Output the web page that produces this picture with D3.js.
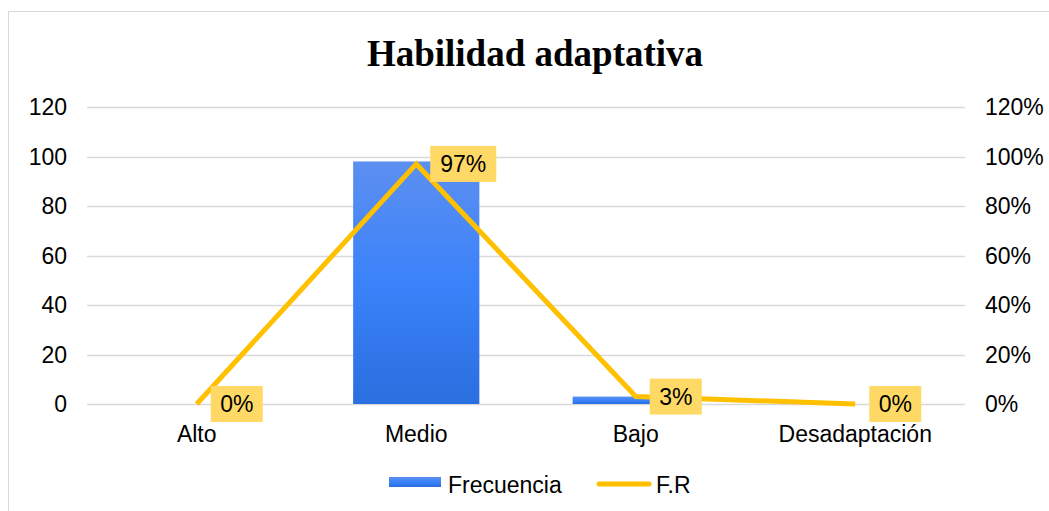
<!DOCTYPE html>
<html>
<head>
<meta charset="utf-8">
<script src="https://cdn.jsdelivr.net/npm/d3@7"></script>
<style>
body { margin: 0; background: #fff; }
text { font-family: "Liberation Sans", Arial, sans-serif; }
</style>
</head>
<body>
<svg width="1049" height="511"></svg>
<script>
var categories = ["Alto", "Medio", "Bajo", "Desadaptación"];
var frecuencia = [0, 98, 3, 0];
var fr = [0, 0.97, 0.03, 0];
var leftTicks = [0, 20, 40, 60, 80, 100, 120];
var rightTicks = [0, 0.2, 0.4, 0.6, 0.8, 1.0, 1.2];

var svg = d3.select("svg"),
	width = +svg.attr("width"),
	height = +svg.attr("height");

var margin = {left: 87, right: 1049 - 965, top: 107, bottom: 511 - 404};
var fs = "23px";

// chart frame
svg.append("rect")
	.attr("x", 8.5).attr("y", 11.5)
	.attr("width", 1060).attr("height", 520)
	.attr("fill", "none")
	.attr("stroke", "#d9d9d9");

var x = d3.scaleBand()
	.domain(categories)
	.range([margin.left, width - margin.right]);

var y = d3.scaleLinear().domain([0, 120]).range([height - margin.bottom, margin.top]);
var y2 = d3.scaleLinear().domain([0, 1.2]).range([height - margin.bottom, margin.top]);

var defs = svg.append("defs");
var grad = defs.append("linearGradient")
	.attr("id", "barGrad")
	.attr("x1", 0).attr("y1", 0).attr("x2", 0).attr("y2", 1);
grad.append("stop").attr("offset", "0%").attr("stop-color", "#5c8ff0");
grad.append("stop").attr("offset", "50%").attr("stop-color", "#3b82fa");
grad.append("stop").attr("offset", "100%").attr("stop-color", "#2a6fdf");

// gridlines
svg.append("g")
	.selectAll("line")
	.data(leftTicks)
	.enter().append("line")
	.attr("x1", margin.left).attr("x2", width - margin.right)
	.attr("y1", function(d) { return Math.round(y(d)) + 0.5; })
	.attr("y2", function(d) { return Math.round(y(d)) + 0.5; })
	.attr("stroke", "#d9d9d9")
	.attr("stroke-width", 1.5);

// left axis
svg.append("g")
	.selectAll("text")
	.data(leftTicks)
	.enter().append("text")
	.attr("x", 67)
	.attr("y", function(d) { return y(d) + 8; })
	.attr("text-anchor", "end")
	.style("font-size", fs)
	.attr("fill", "#000")
	.text(function(d) { return d; });

// right axis
svg.append("g")
	.selectAll("text")
	.data(rightTicks)
	.enter().append("text")
	.attr("x", 985)
	.attr("y", function(d) { return y2(d) + 8; })
	.style("font-size", fs)
	.attr("fill", "#000")
	.text(function(d) { return d3.format(".0%")(d); });

// category labels
svg.append("g")
	.selectAll("text")
	.data(categories)
	.enter().append("text")
	.attr("x", function(d) { return x(d) + x.bandwidth() / 2; })
	.attr("y", 442)
	.attr("text-anchor", "middle")
	.style("font-size", fs)
	.attr("fill", "#000")
	.text(function(d) { return d; });

// bars
var barW = x.bandwidth() * 0.575;
svg.append("g")
	.selectAll("rect")
	.data(frecuencia)
	.enter().append("rect")
	.attr("x", function(d, i) { return x(categories[i]) + (x.bandwidth() - barW) / 2; })
	.attr("y", function(d) { return y(d); })
	.attr("width", barW)
	.attr("height", function(d) { return y(0) - y(d); })
	.attr("fill", "url(#barGrad)");

// line
var line = d3.line()
	.x(function(d, i) { return x(categories[i]) + x.bandwidth() / 2; })
	.y(function(d) { return y2(d); });

svg.append("path")
	.datum(fr)
	.attr("d", line)
	.attr("fill", "none")
	.attr("stroke", "#ffc000")
	.attr("stroke-width", 5)
	.attr("stroke-linejoin", "miter");

// data labels
var lab = svg.append("g")
	.selectAll("g")
	.data(fr)
	.enter().append("g")
	.attr("transform", function(d, i) {
		return "translate(" + (x(categories[i]) + x.bandwidth() / 2 + 14) + "," + y2(d) + ")";
	});
lab.append("rect")
	.attr("x", 0)
	.attr("y", -18)
	.attr("width", function(d) { return d >= 0.1 ? 66 : 52; })
	.attr("height", 36)
	.attr("fill", "#ffd966");
lab.append("text")
	.attr("x", function(d) { return d >= 0.1 ? 33 : 26; })
	.attr("y", 8)
	.attr("text-anchor", "middle")
	.style("font-size", fs)
	.attr("fill", "#000")
	.text(function(d) { return d3.format(".0%")(d); });

// title
svg.append("text")
	.attr("x", 535)
	.attr("y", 66)
	.attr("text-anchor", "middle")
	.style("font-family", "'Liberation Serif', 'Times New Roman', serif")
	.style("font-weight", "bold")
	.style("font-size", "37px")
	.attr("fill", "#000")
	.text("Habilidad adaptativa");

// legend
var legend = svg.append("g");
legend.append("rect")
	.attr("x", 389).attr("y", 477)
	.attr("width", 52).attr("height", 10)
	.attr("fill", "url(#barGrad)");
legend.append("text")
	.attr("x", 448).attr("y", 493)
	.style("font-size", fs)
	.attr("fill", "#000")
	.text("Frecuencia");
legend.append("line")
	.attr("x1", 599).attr("x2", 649)
	.attr("y1", 484).attr("y2", 484)
	.attr("stroke", "#ffc000")
	.attr("stroke-width", 5)
	.attr("stroke-linecap", "round");
legend.append("text")
	.attr("x", 656).attr("y", 493)
	.style("font-size", fs)
	.attr("fill", "#000")
	.text("F.R");
</script>
</body>
</html>
